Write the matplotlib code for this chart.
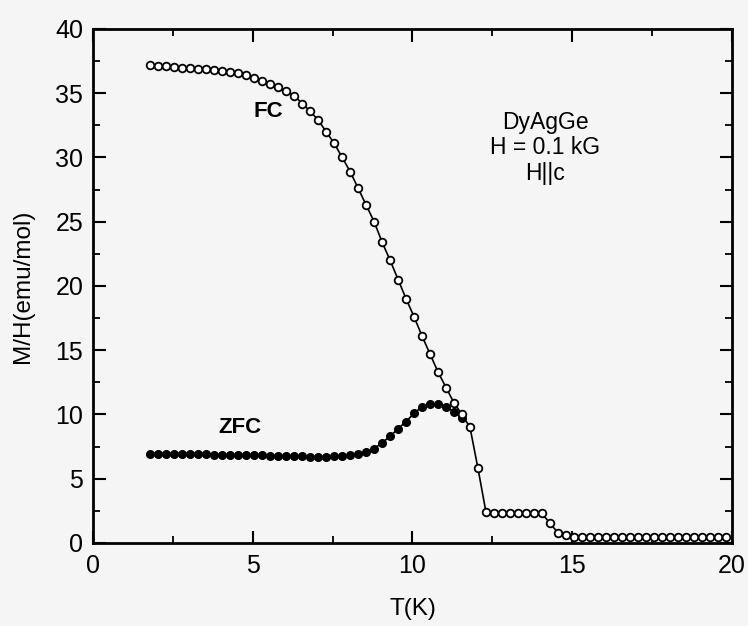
import matplotlib
matplotlib.use("Agg")
import matplotlib.pyplot as plt
from matplotlib.ticker import MultipleLocator

plt.rcParams['font.family'] = ['Liberation Sans', 'DejaVu Sans']

T_fc = [1.8, 2.05, 2.3, 2.55, 2.8, 3.05, 3.3, 3.55, 3.8, 4.05, 4.3, 4.55, 4.8,
        5.05, 5.3, 5.55, 5.8, 6.05, 6.3, 6.55, 6.8, 7.05, 7.3, 7.55, 7.8,
        8.05, 8.3, 8.55, 8.8, 9.05, 9.3, 9.55, 9.8, 10.05, 10.3, 10.55, 10.8,
        11.05, 11.3, 11.55, 11.8, 12.05, 12.3, 12.55, 12.8, 13.05, 13.3, 13.55,
        13.8, 14.05, 14.3, 14.55, 14.8, 15.05, 15.3, 15.55, 15.8, 16.05, 16.3,
        16.55, 16.8, 17.05, 17.3, 17.55, 17.8, 18.05, 18.3, 18.55, 18.8, 19.05,
        19.3, 19.55, 19.8]
M_fc = [37.2, 37.15, 37.1, 37.05, 37.0, 36.95, 36.9, 36.85, 36.8, 36.75, 36.65,
        36.55, 36.4, 36.2, 35.95, 35.75, 35.5, 35.2, 34.8, 34.2, 33.6, 32.9,
        32.0, 31.1, 30.0, 28.9, 27.6, 26.3, 25.0, 23.4, 22.0, 20.5, 19.0, 17.6,
        16.1, 14.7, 13.3, 12.1, 10.9, 10.0, 9.0, 5.8, 2.4, 2.35, 2.35, 2.35,
        2.35, 2.35, 2.35, 2.3, 1.55, 0.8, 0.6, 0.5, 0.5, 0.5, 0.5, 0.5, 0.5,
        0.49, 0.49, 0.49, 0.49, 0.48, 0.48, 0.48, 0.48, 0.48, 0.48, 0.48, 0.48,
        0.48, 0.48]

T_zfc = [1.8, 2.05, 2.3, 2.55, 2.8, 3.05, 3.3, 3.55, 3.8, 4.05, 4.3, 4.55, 4.8,
         5.05, 5.3, 5.55, 5.8, 6.05, 6.3, 6.55, 6.8, 7.05, 7.3, 7.55, 7.8,
         8.05, 8.3, 8.55, 8.8, 9.05, 9.3, 9.55, 9.8, 10.05, 10.3, 10.55, 10.8,
         11.05, 11.3, 11.55]
M_zfc = [6.95, 6.95, 6.93, 6.93, 6.92, 6.92, 6.9, 6.9, 6.88, 6.88, 6.86, 6.85,
         6.84, 6.83, 6.82, 6.8, 6.78, 6.77, 6.75, 6.74, 6.72, 6.72, 6.72, 6.74,
         6.78, 6.82, 6.9, 7.1, 7.35, 7.8, 8.3, 8.9, 9.45, 10.1, 10.6, 10.8,
         10.8, 10.6, 10.2, 9.7]

x_ticks = [0, 5, 10, 15, 20]
y_ticks = [0, 5, 10, 15, 20, 25, 30, 35, 40]

bg = '#f4f5f4'
fig = plt.figure(figsize=(7.48, 6.26), dpi=100, facecolor=bg)
ax = fig.add_axes([0.1243, 0.1326, 0.8543, 0.8211], facecolor=bg)

ax.plot(T_fc, M_fc, '-', color='black', lw=1.2, marker='o', ms=5.5,
        mfc='white', mec='black', mew=1.3, zorder=3)
ax.plot(T_zfc, M_zfc, '-', color='black', lw=1.2, marker='o', ms=5.5,
        mfc='black', mec='black', mew=1.0, zorder=2)

ax.set_xlim(0, 20)
ax.set_ylim(0, 40)
ax.set_xticks(x_ticks)
ax.set_yticks(y_ticks)
ax.xaxis.set_minor_locator(MultipleLocator(2.5))
ax.yaxis.set_minor_locator(MultipleLocator(2.5))
ax.tick_params(which='both', direction='in', top=True, right=True,
               labelsize=18, color='black')
ax.tick_params(axis='x', which='both', pad=8)
ax.tick_params(axis='y', which='both', pad=7)
ax.tick_params(which='major', length=9, width=1.5)
ax.tick_params(which='minor', length=5, width=1.3)
for s in ax.spines.values():
    s.set_linewidth(2.0)

ax.set_xlabel('T(K)', fontsize=17.5, labelpad=14)
ax.set_ylabel('M/H(emu/mol)', fontsize=17.5, labelpad=15)

ax.text(5.5, 33.6, 'FC', fontsize=16, fontweight='bold', ha='center', va='center')
ax.text(4.6, 8.95, 'ZFC', fontsize=16, fontweight='bold', ha='center', va='center')
ax.text(14.15, 30.75, 'DyAgGe\nH = 0.1 kG\nH||c', fontsize=16.5, ha='center',
        va='center', linespacing=1.15)

fig.savefig('out.png', dpi=100, facecolor=bg)
